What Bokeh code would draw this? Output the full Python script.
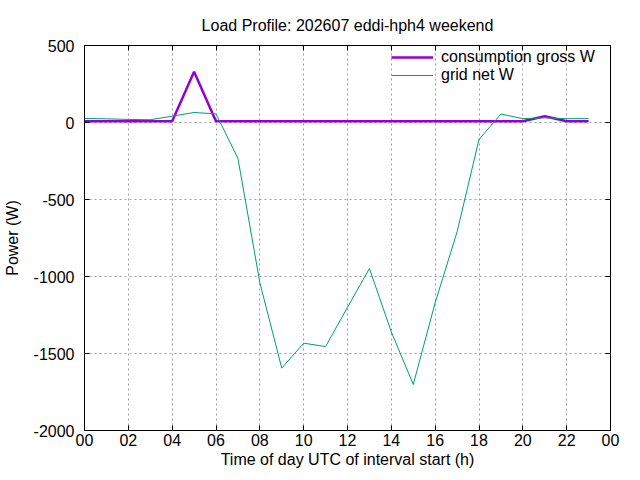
from bokeh.plotting import figure
from bokeh.models import Range1d, FixedTicker, LinearAxis, Legend, LegendItem, CustomLabelingPolicy
from bokeh.embed import file_html
from bokeh.resources import INLINE

hours = list(range(24))
consumption_gross = [8, 8, 8, 8, 8, 330, 8, 8, 8, 8, 8, 8, 8, 8, 8, 8, 8, 8, 8, 8, 8, 40, 8, 8]
grid_net = [26, 24, 20, 18, 41, 65, 56, -232, -1040, -1595, -1433, -1455, -1200, -948,
            -1360, -1701, -1170, -710, -110, 55, 25, 30, 25, 25]
x_ticks = list(range(0, 25, 2))
x_tick_labels = ["00", "02", "04", "06", "08", "10", "12", "14", "16", "18", "20", "22", "00"]
y_ticks = [-2000, -1500, -1000, -500, 0, 500]
y_tick_labels = ["-2000", "-1500", "-1000", "-500", "0", "500"]

FONT = "Liberation Sans"
FS = "16px"

p = figure(width=640, height=480, output_backend="svg", toolbar_location=None,
           x_range=Range1d(0, 24), y_range=Range1d(-2000, 500),
           min_border_left=82, min_border_right=30, min_border_top=45, min_border_bottom=50,
           title="Load Profile: 202607 eddi-hph4 weekend")

p.title.text_font = FONT
p.title.text_font_size = FS
p.title.text_font_style = "normal"
p.title.text_color = "black"
p.title.align = "center"
p.title.standoff = 16

p.outline_line_color = "black"
p.outline_line_width = 1
p.background_fill_color = "white"
p.border_fill_color = "white"

for ax in (p.xaxis[0], p.yaxis[0]):
    ax.major_tick_in = 5
    ax.major_tick_out = 0
    ax.minor_tick_line_color = None
    ax.axis_line_color = None
    ax.major_tick_line_color = "black"
    ax.major_label_text_font = FONT
    ax.major_label_text_font_size = FS
    ax.major_label_text_color = "black"
    ax.axis_label_text_font = FONT
    ax.axis_label_text_font_size = FS
    ax.axis_label_text_font_style = "normal"
    ax.axis_label_text_color = "black"

p.xaxis.ticker = FixedTicker(ticks=x_ticks)
p.xaxis.major_label_overrides = {t: l for t, l in zip(x_ticks, x_tick_labels)}
p.xaxis.axis_label = "Time of day UTC of interval start (h)"
p.xaxis.major_label_standoff = 3
p.xaxis.axis_label_standoff = 2

p.yaxis.ticker = FixedTicker(ticks=y_ticks)
p.yaxis.major_label_overrides = {t: l for t, l in zip(y_ticks, y_tick_labels)}
p.yaxis.axis_label = "Power (W)"
p.yaxis.major_label_standoff = 10
p.yaxis.axis_label_standoff = 10

# mirrored ticks on top and right (no labels)
no_labels = "return new Set()"
top = LinearAxis(ticker=FixedTicker(ticks=x_ticks), major_tick_in=5, major_tick_out=0,
                 minor_tick_line_color=None, axis_line_color=None,
                 major_label_standoff=0, major_label_text_font_size="1px",
                 major_label_policy=CustomLabelingPolicy(code=no_labels))
right = LinearAxis(ticker=FixedTicker(ticks=y_ticks), major_tick_in=5, major_tick_out=0,
                   minor_tick_line_color=None, axis_line_color=None,
                   major_label_standoff=0, major_label_text_font_size="1px",
                   major_label_policy=CustomLabelingPolicy(code=no_labels))
p.add_layout(top, "above")
p.add_layout(right, "right")

p.xgrid.ticker = FixedTicker(ticks=x_ticks)
p.ygrid.ticker = FixedTicker(ticks=y_ticks)
for g in (p.xgrid[0], p.ygrid[0]):
    g.grid_line_color = "#a0a0a0"
    g.grid_line_dash = "2 3"
    g.grid_line_width = 1

PURPLE = "#9400d3"
GREEN = "#009e73"

r1 = p.line(hours, consumption_gross, line_color=PURPLE, line_width=2.5)
r2 = p.line(hours, grid_net, line_color=GREEN, line_width=1)

legend = Legend(items=[LegendItem(label="consumption gross W", renderers=[r1]),
                       LegendItem(label="grid net W", renderers=[r2])],
                location="top_right", margin=3, padding=0, spacing=0,
                glyph_width=42, glyph_height=16, label_height=16, label_width=166,
                label_standoff=8, label_text_font=FONT, label_text_font_size=FS,
                label_text_color="black", border_line_color=None,
                background_fill_alpha=0)
p.add_layout(legend)

open("out.html", "w").write(file_html(p, INLINE))
